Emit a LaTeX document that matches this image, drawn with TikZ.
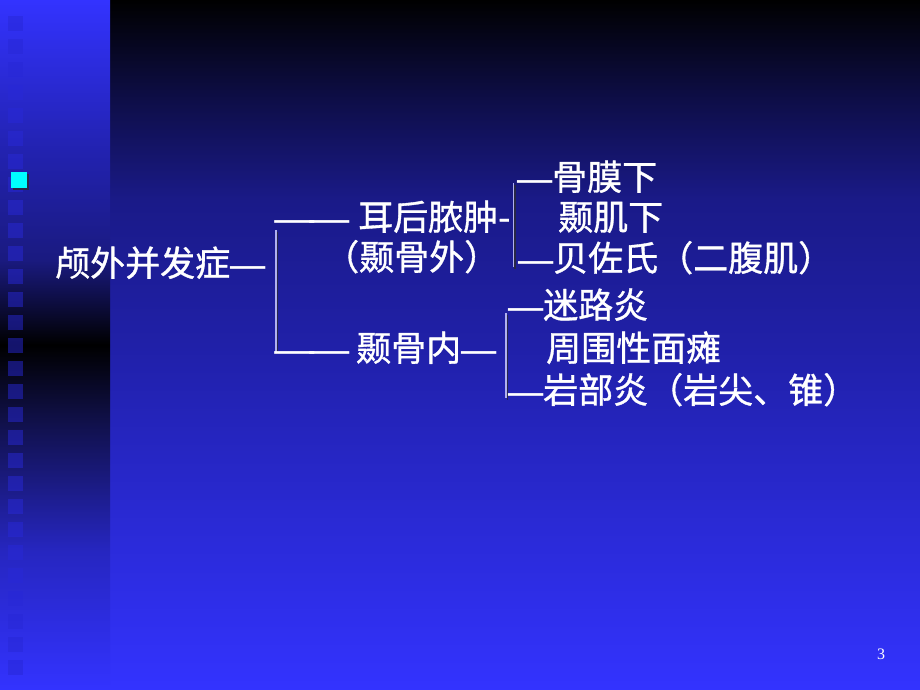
\documentclass[tikz,border=0pt]{standalone}
\usepackage{fontspec}
\usepackage{graphicx}
\newfontfamily\cjk[FakeBold=1]{Noto Sans CJK SC}
\newfontfamily\dashfont{DejaVu Sans}
\newfontfamily\numfont{Liberation Serif}
\usetikzlibrary{calc}
\definecolor{bgblue}{RGB}{51,51,255}
\definecolor{mA}{RGB}{14,14,72}
\definecolor{mB}{RGB}{26,26,136}
\definecolor{mC}{RGB}{32,32,168}
\definecolor{sA}{RGB}{34,34,176}
\definecolor{sB}{RGB}{26,26,128}
\definecolor{sC}{RGB}{16,16,72}
\definecolor{sD}{RGB}{38,38,192}
\definecolor{sqcol}{RGB}{40,40,215}
\definecolor{linecol}{RGB}{176,176,240}
\definecolor{shadowcol}{RGB}{40,40,70}
\definecolor{cyansq}{RGB}{0,255,255}
\pgfdeclareverticalshading{mainbg}{100bp}{color(0bp)=(bgblue); color(25bp)=(bgblue); color(50bp)=(mC); color(60.5bp)=(mB); color(67.75bp)=(mA); color(75bp)=(black); color(100bp)=(black)}
\pgfdeclareverticalshading{stripbg}{100bp}{color(0bp)=(bgblue); color(25bp)=(bgblue); color(35.1bp)=(sD); color(44.6bp)=(sC); color(50bp)=(black); color(56.2bp)=(sB); color(64.1bp)=(sA); color(75bp)=(bgblue); color(100bp)=(bgblue)}
\tikzset{
  txt/.style={font=\cjk\fontsize{35}{40}\selectfont, text=white, inner sep=0pt, anchor=base west},
  brace/.style={draw=linecol, line width=1.4pt},
  braces/.style={draw=shadowcol, line width=1.4pt},
  sq/.style={fill=sqcol, fill opacity=0.5},
}
% full-width dash, and a joined pair of them
\newcommand\dd{\makebox[1em]{\dashfont\raisebox{-2pt}{\scalebox{1.12}[1.1]{—}}}}
\newcommand\ddpair{\makebox[2em]{\dashfont\raisebox{-2pt}{\scalebox{1.27}[1.1]{—}\kern-9pt\scalebox{1.27}[1.1]{—}}}}
\begin{document}
\begin{tikzpicture}[x=1pt,y=-1pt]
\useasboundingbox (0,0) rectangle (920,690);
\shade[shading=mainbg] (110,0) rectangle (920,690);
\shade[shading=stripbg] (0,0) rectangle (110,690);
\foreach \i in {0,...,28} \fill[sq] (7.5,{16+23*\i}) rectangle +(15,15);
\fill[shadowcol] (13,174) rectangle +(16,16);
\fill[cyansq] (11,172) rectangle +(16,16);
% brackets
\coordinate (v1t) at (276,230); \coordinate (v1b) at (276,352);
\coordinate (v2t) at (513.5,183); \coordinate (v2b) at (513.5,267);
\coordinate (v3t) at (506,313); \coordinate (v3b) at (506,398);
\foreach \a/\b in {v1t/v1b,v2t/v2b,v3t/v3b}{
  \draw[braces] ($(\a)+(1.5,1.5)$) -- ($(\b)+(1.5,1.5)$);
  \draw[brace] (\a) -- (\b);}
% texts
\node[txt] (root) at (55,276) {颅外并发症\dd};
\node[txt] (ehou) at (277,230) {\ddpair\hspace{11pt}耳后脓肿-};
\node[txt] (ngw)  at (324,270) {（颞骨外）};
\node[txt] (ngn)  at (277,361) {\ddpair\hspace{9pt}颞骨内\dd};
\node[txt] (gmx)  at (517,190) {\dd 骨膜下};
\node[txt] (njx)  at (558,230) {颞肌下};
\node[txt] (bzs)  at (518,271) {\dd 贝佐氏（二腹肌）};
\node[txt] (mly)  at (508,318) {\dd 迷路炎};
\node[txt] (zwx)  at (546,361) {周围性面瘫};
\node[txt] (ybs)  at (508,403) {\dd 岩部炎（岩尖、锥）};
\node[font=\numfont\fontsize{16}{18}\selectfont, text=white, inner sep=0pt, anchor=base west] (pg) at (877,659) {3};
\end{tikzpicture}
\end{document}
